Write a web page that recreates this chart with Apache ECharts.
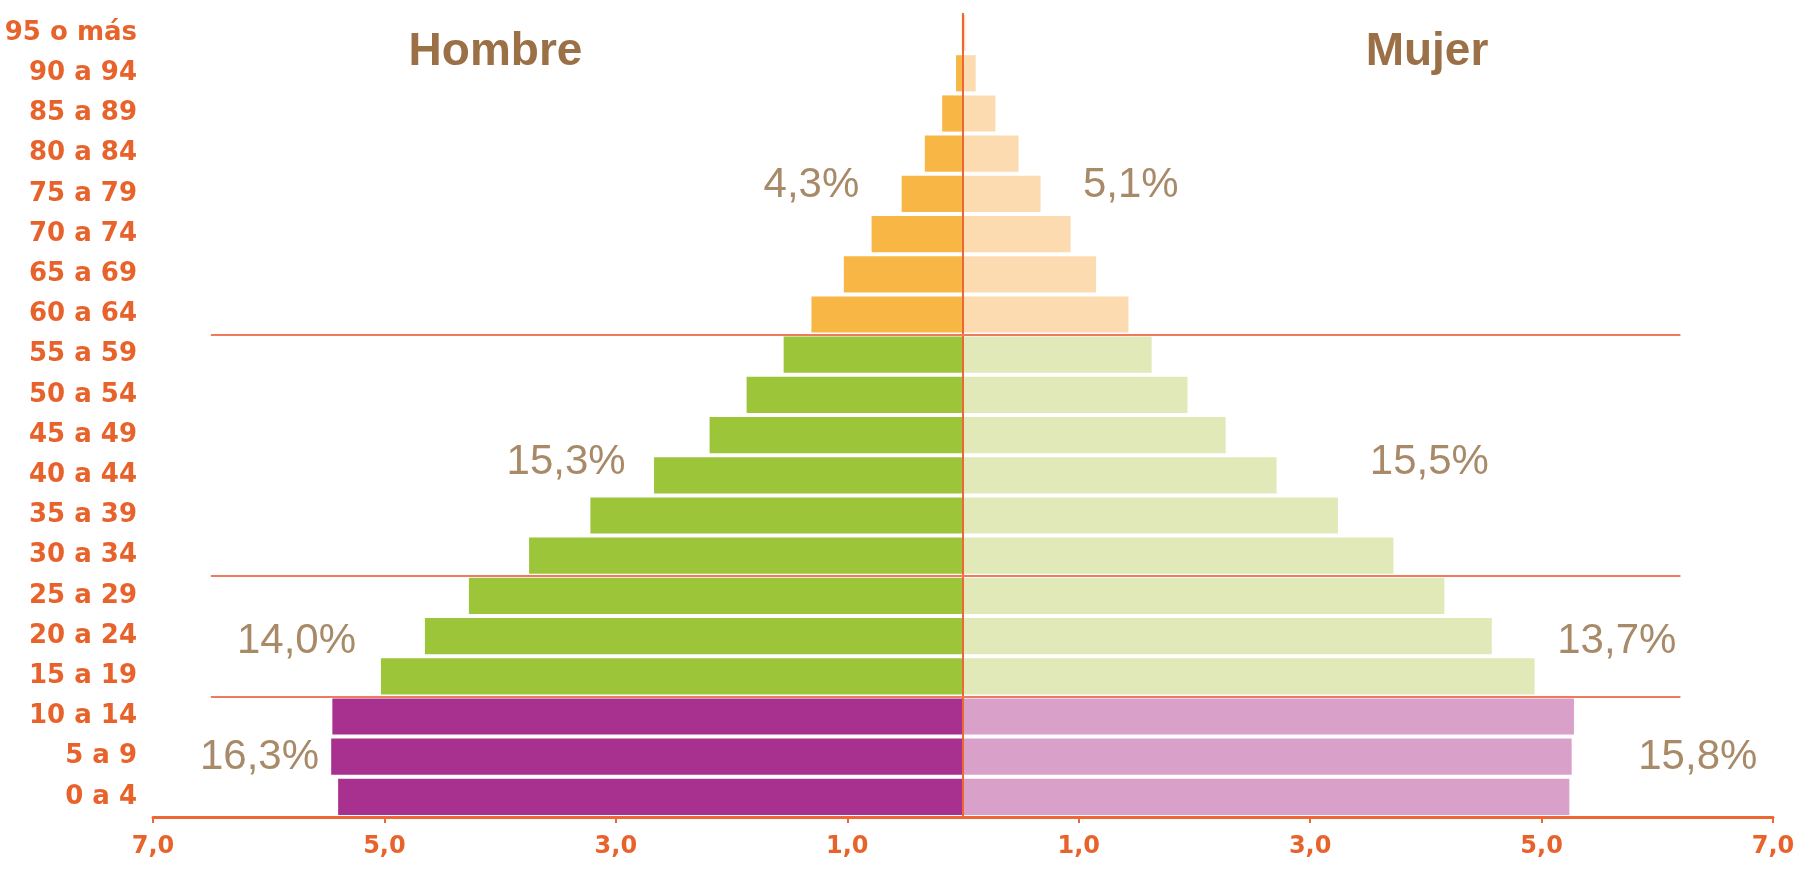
<!DOCTYPE html>
<html>
<head>
<meta charset="utf-8">
<script src="https://cdn.jsdelivr.net/npm/echarts@6/dist/echarts.min.js"></script>
<style>
html,body{margin:0;padding:0;background:#fff;}
#c{width:1815px;height:869px;}
</style>
</head>
<body>
<div id="c"></div>
<script>
// Age groups, bottom to top
var categories = ['0 a 4','5 a 9','10 a 14','15 a 19','20 a 24','25 a 29','30 a 34','35 a 39','40 a 44','45 a 49','50 a 54','55 a 59','60 a 64','65 a 69','70 a 74','75 a 79','80 a 84','85 a 89','90 a 94','95 o más'];
// Percent of population
var male   = [5.40, 5.46, 5.45, 5.03, 4.65, 4.27, 3.75, 3.22, 2.67, 2.19, 1.87, 1.55, 1.31, 1.03, 0.79, 0.53, 0.33, 0.18, 0.06, 0.01];
var female = [5.24, 5.26, 5.28, 4.94, 4.57, 4.16, 3.72, 3.24, 2.71, 2.27, 1.94, 1.63, 1.43, 1.15, 0.93, 0.67, 0.48, 0.28, 0.11, 0.02];
// Group totals: 0-14, 15-29, 30-59, 60+
var maleGroupTotals   = [16.3, 14.0, 15.3, 4.3];
var femaleGroupTotals = [15.8, 13.7, 15.5, 5.1];
var xTickValues = [-7, -5, -3, -1, 1, 3, 5, 7];
var sideTitles = ['Hombre', 'Mujer'];

var maleColors   = {young:'#a8308f', adult:'#9cc539', old:'#f8b745'};
var femaleColors = {young:'#d9a0c9', adult:'#e2e9b9', old:'#fcdbb0'};
function colorFor(pal, i){ return i < 3 ? pal.young : (i < 12 ? pal.adult : pal.old); }
function fmt(v){ return v.toFixed(1).replace('.', ','); }

var axisColor = '#ee6633';
var lineColor = '#ef7a5e';
var pctStyle = {show:true, position:'inside', color:'#a88a68', fontFamily:'Liberation Sans, Arial, sans-serif', fontSize:42, fontWeight:'normal'};
var ttlStyle = {show:true, position:'inside', color:'#9b7046', fontFamily:'Liberation Sans, Arial, sans-serif', fontSize:46, fontWeight:'bold'};

// label anchor positions in data units (x: percent, y: row units)
var malePctPos   = [[-6.08, 1.47], [-5.76, 4.38], [-3.43, 8.81], [-1.31, 15.72]];
var femalePctPos = [[6.35, 1.49], [5.65, 4.38], [4.03, 8.83], [1.45, 15.72]];
var marks = [];
maleGroupTotals.forEach(function(v, i){
  marks.push({coord: malePctPos[i], value: v, label: Object.assign({formatter: fmt(v) + '%'}, pctStyle)});
});
femaleGroupTotals.forEach(function(v, i){
  marks.push({coord: femalePctPos[i], value: v, label: Object.assign({formatter: fmt(v) + '%'}, pctStyle)});
});
marks.push({coord: [-4.04, 19.03], value: 0, label: Object.assign({formatter: sideTitles[0]}, ttlStyle)});
marks.push({coord: [4.01, 19.03], value: 0, label: Object.assign({formatter: sideTitles[1]}, ttlStyle)});

var chart = echarts.init(document.getElementById('c'), null, {renderer:'canvas'});
chart.setOption({
  animation: false,
  backgroundColor: '#ffffff',
  grid: {left:153, right:42, top:13, bottom:52, containLabel:false},
  xAxis: {
    type:'value', min:-7, max:7, interval:2,
    axisLine:{show:true, lineStyle:{color:axisColor, width:3}},
    axisTick:{show:true, length:6, lineStyle:{color:axisColor, width:2}},
    splitLine:{show:false},
    axisLabel:{
      margin:18, color:'#e8632b', fontSize:24, fontWeight:'bold',
      fontFamily:'DejaVu Sans, sans-serif',
      formatter:function(v){ return fmt(Math.abs(v)); }
    }
  },
  yAxis: [
    {
      type:'category', data:categories,
      axisLine:{show:false}, axisTick:{show:false}, splitLine:{show:false},
      axisLabel:{margin:16, color:'#e8632b', fontSize:26, fontWeight:'bold', fontFamily:'DejaVu Sans, sans-serif'}
    },
    {type:'value', min:0, max:20, show:false}
  ],
  series: [
    {
      name:'Hombre', type:'bar', barCategoryGap:'10%', barGap:'-100%',
      data: male.map(function(v, i){ return {value:-v, itemStyle:{color:colorFor(maleColors, i)}}; })
    },
    {
      name:'Mujer', type:'bar', barCategoryGap:'10%', barGap:'-100%',
      data: female.map(function(v, i){ return {value:v, itemStyle:{color:colorFor(femaleColors, i)}}; })
    },
    {
      name:'anotaciones', type:'scatter', xAxisIndex:0, yAxisIndex:1, data:[], z:10,
      markLine: {
        silent:true, symbol:['none','none'],
        label:{show:false},
        data: [
          [{coord:[0,0], lineStyle:{color:axisColor, width:2, type:'solid'}}, {coord:[0,20]}],
          [{coord:[-6.5,3], lineStyle:{color:lineColor, width:2, type:'solid'}}, {coord:[6.2,3]}],
          [{coord:[-6.5,6], lineStyle:{color:lineColor, width:2, type:'solid'}}, {coord:[6.2,6]}],
          [{coord:[-6.5,12], lineStyle:{color:lineColor, width:2, type:'solid'}}, {coord:[6.2,12]}]
        ]
      },
      markPoint: {
        silent:true, symbol:'circle', symbolSize:0,
        itemStyle:{color:'rgba(0,0,0,0)'},
        data: marks
      }
    }
  ]
});
</script>
</body>
</html>
